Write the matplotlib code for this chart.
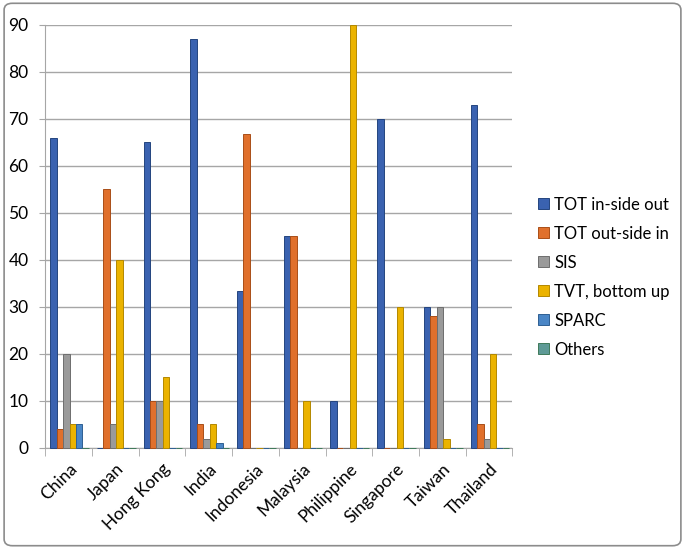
import matplotlib
matplotlib.use("Agg")
import matplotlib.pyplot as plt
import numpy as np
from matplotlib.patches import FancyBboxPatch

plt.rcParams['font.family'] = ['Lato', 'DejaVu Sans']

categories = ["China", "Japan", "Hong Kong", "India", "Indonesia", "Malaysia",
              "Philippine", "Singapore", "Taiwan", "Thailand"]
series_names = ["TOT in-side out", "TOT out-side in", "SIS", "TVT, bottom up", "SPARC", "Others"]
tot_in = [66, 0, 65, 87, 33.3, 45, 10, 70, 30, 73]
tot_out = [4, 55, 10, 5, 66.7, 45, 0, 0, 28, 5]
sis = [20, 5, 10, 2, 0, 0, 0, 0, 30, 2]
tvt = [5, 40, 15, 5, 0, 10, 90, 30, 2, 20]
sparc = [5, 0, 0, 1, 0, 0, 0, 0, 0, 0]
others = [0, 0, 0, 0, 0, 0, 0, 0, 0, 0]
yticks = [0, 10, 20, 30, 40, 50, 60, 70, 80, 90]

values = [tot_in, tot_out, sis, tvt, sparc, others]
colors = ["#3A62B0", "#E0702C", "#9A9A9A", "#EBB300", "#4A86C6", "#5E9A96"]
edges = ["#24457F", "#A94E18", "#6E6E6E", "#B38800", "#2F5F93", "#3F7A5A"]

fig = plt.figure(figsize=(6.85, 5.49), dpi=100)
fig.patch.set_facecolor("white")
border = FancyBboxPatch((0.006, 0.006), 0.988, 0.988, boxstyle="round,pad=0,rounding_size=0.012",
                        transform=fig.transFigure, fill=False, edgecolor="#8C8C8C", linewidth=1.2)
fig.patches.append(border)

ax = fig.add_axes([0.066, 0.184, 0.682, 0.771])
x = np.arange(len(categories))
w = 0.138
n = len(values)
for i, (vals, c, e, name) in enumerate(zip(values, colors, edges, series_names)):
    offs = (i - (n - 1) / 2) * w + 0.02
    ax.bar(x + offs, vals, width=w, color=c, edgecolor=e, linewidth=0.7, label=name,
           zorder=3, clip_on=False)

ax.set_xlim(-0.5, len(categories) - 0.5)
ax.set_ylim(0, 90)
ax.set_yticks(yticks)
ax.set_yticklabels([str(t) for t in yticks], fontsize=12.5)
ax.yaxis.grid(True, color="#A6A6A6", linewidth=1.0, zorder=0)
ax.set_axisbelow(True)
for s in ["top", "right"]:
    ax.spines[s].set_visible(False)
ax.spines["left"].set_color("#A6A6A6")
ax.spines["bottom"].set_color("#A6A6A6")
ax.tick_params(axis="y", length=4, color="#A6A6A6", pad=8)
ax.set_xticks(x)
ax.set_xticklabels(categories, rotation=45, ha="right", rotation_mode="anchor", fontsize=12.5)
ax.tick_params(axis="x", length=0, pad=9)
ax.set_xticks(np.arange(-0.5, len(categories), 1.0), minor=True)
ax.tick_params(axis="x", which="minor", length=6, color="#A6A6A6")

handles, labels = ax.get_legend_handles_labels()
leg = fig.legend(handles, labels, loc="center left", bbox_to_anchor=(0.764, 0.495),
                 frameon=False, fontsize=12, handlelength=0.65, handleheight=0.65,
                 handletextpad=0.3, labelspacing=0.78)

fig.savefig("out.png", dpi=100, facecolor="white")
